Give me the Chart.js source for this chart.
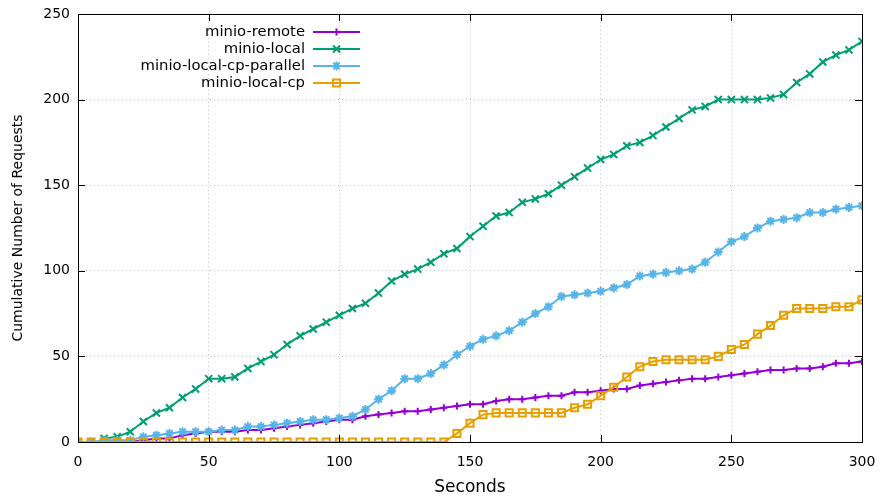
<!DOCTYPE html>
<html>
<head>
<meta charset="utf-8">
<script src="https://cdn.jsdelivr.net/npm/chart.js@4/dist/chart.umd.min.js"></script>
<style>
  html, body { margin: 0; padding: 0; background: #fff; }
  #wrap { width: 881px; height: 498px; }
</style>
</head>
<body>
<div id="wrap"><canvas id="mycanvas" width="881" height="498"></canvas></div>
<script>
// sample times, every 5 seconds
var seconds = [];
for (var s = 0; s <= 300; s += 5) seconds.push(s);

var minioRemote = [0, 0, 0, 0, 0, 1, 2, 2, 4, 5, 6, 6, 6, 7, 7, 8, 9, 10, 11, 12,
    13, 13, 15, 16, 17, 18, 18, 19, 20, 21, 22, 22, 24, 25, 25, 26, 27, 27, 29, 29,
    30, 31, 31, 33, 34, 35, 36, 37, 37, 38, 39, 40, 41, 42, 42, 43, 43, 44, 46, 46, 47];
var minioLocal = [null, null, 2, 3, 6, 12, 17, 20, 26, 31, 37, 37, 38, 43, 47, 51, 57, 62, 66, 70,
    74, 78, 81, 87, 94, 98, 101, 105, 110, 113, 120, 126, 132, 134, 140, 142, 145, 150, 155, 160,
    165, 168, 173, 175, 179, 184, 189, 194, 196, 200, 200, 200, 200, 201, 203, 210, 215, 222, 226, 229, 234];
var minioLocalCpParallel = [0, 0, 1, 1, 1, 3, 4, 5, 6, 6, 6, 7, 7, 9, 9, 10, 11, 12, 13, 13,
    14, 15, 19, 25, 30, 37, 37, 40, 45, 51, 56, 60, 62, 65, 70, 75, 79, 85, 86, 87,
    88, 90, 92, 97, 98, 99, 100, 101, 105, 111, 117, 120, 125, 129, 130, 131, 134, 134, 136, 137, 138];
var minioLocalCp = [0, 0, 0, 0, 0, 0, 0, 0, 0, 0, 0, 0, 0, 0, 0, 0, 0, 0, 0, 0,
    0, 0, 0, 0, 0, 0, 0, 0, 0, 5, 11, 16, 17, 17, 17, 17, 17, 17, 20, 22,
    27, 32, 38, 44, 47, 48, 48, 48, 48, 50, 54, 57, 63, 68, 74, 78, 78, 78, 79, 79, 83];

var xTicks = [0, 50, 100, 150, 200, 250, 300];
var yTicks = [0, 50, 100, 150, 200, 250];

var colors = {
    purple: '#9400d3',
    green: '#009e73',
    blue: '#56b4e9',
    orange: '#e69f00'
};

var FONT = "'DejaVu Sans', sans-serif";

function points(vals) {
    var out = [];
    for (var i = 0; i < seconds.length; i++) {
        if (vals[i] !== null) out.push({ x: seconds[i], y: vals[i] });
    }
    return out;
}

function series(label, vals, color, style, radius, order) {
    return {
        label: label,
        data: points(vals),
        borderColor: color,
        backgroundColor: color,
        borderWidth: 2,
        pointStyle: style,
        pointRadius: radius,
        pointBorderWidth: 2,
        pointBorderColor: color,
        pointBackgroundColor: style === 'rect' ? 'rgba(0,0,0,0)' : color,
        tension: 0,
        order: order
    };
}

var datasets = [
    series('minio-remote', minioRemote, colors.purple, 'cross', 3.5, 3),
    series('minio-local', minioLocal, colors.green, 'crossRot', 5, 2),
    series('minio-local-cp-parallel', minioLocalCpParallel, colors.blue, 'star', 4.5, 1),
    series('minio-local-cp', minioLocalCp, colors.orange, 'rect', 5, 0)
];

// frame around the plot with inward ticks on all four sides
var framePlugin = {
    id: 'frame',
    afterDatasetsDraw: function (chart) {
        var ctx = chart.ctx, a = chart.chartArea;
        var xs = chart.scales.x, ys = chart.scales.y;
        ctx.save();
        ctx.strokeStyle = '#000';
        ctx.lineWidth = 1;
        ctx.strokeRect(a.left + 0.5, a.top + 0.5, a.right - a.left, a.bottom - a.top);
        ctx.beginPath();
        xTicks.forEach(function (v) {
            var px = Math.round(xs.getPixelForValue(v)) + 0.5;
            ctx.moveTo(px, a.bottom); ctx.lineTo(px, a.bottom - 7);
            ctx.moveTo(px, a.top); ctx.lineTo(px, a.top + 7);
        });
        yTicks.forEach(function (v) {
            var py = Math.round(ys.getPixelForValue(v)) + 0.5;
            ctx.moveTo(a.left, py); ctx.lineTo(a.left + 7, py);
            ctx.moveTo(a.right, py); ctx.lineTo(a.right - 7, py);
        });
        ctx.stroke();
        ctx.restore();
    }
};

// gnuplot-like key: right aligned text, sample line with marker after it
var keyPlugin = {
    id: 'key',
    afterDatasetsDraw: function (chart) {
        var ctx = chart.ctx;
        var textRight = 305, lineL = 313, lineR = 360, top = 32, step = 17;
        var mx = (lineL + lineR) / 2;
        ctx.save();
        ctx.font = '14.8px ' + FONT;
        ctx.textAlign = 'right';
        ctx.textBaseline = 'middle';
        datasets.forEach(function (ds, i) {
            var y = top + i * step;
            ctx.fillStyle = '#000';
            ctx.fillText(ds.label, textRight, y);
            ctx.strokeStyle = ds.borderColor;
            ctx.fillStyle = ds.pointBackgroundColor;
            ctx.lineWidth = 2;
            ctx.beginPath();
            ctx.moveTo(lineL, y); ctx.lineTo(lineR, y);
            ctx.stroke();
            Chart.helpers.drawPoint(ctx, {
                pointStyle: ds.pointStyle,
                radius: ds.pointRadius,
                rotation: 0,
                borderWidth: 2
            }, mx, y);
        });
        ctx.restore();
    }
};

var ctx = document.getElementById('mycanvas');
var chart = new Chart(ctx, {
    type: 'line',
    data: { datasets: datasets },
    options: {
        responsive: false,
        animation: false,
        layout: { padding: { top: 14, right: 19, left: 0, bottom: 0 } },
        plugins: {
            legend: { display: false },
            tooltip: { enabled: false }
        },
        scales: {
            x: {
                type: 'linear',
                min: 0,
                max: 300,
                afterFit: function (scale) {
                    scale.height = 56;
                    scale.paddingLeft = 0;
                    scale.paddingRight = 0;
                },
                afterBuildTicks: function (scale) {
                    scale.ticks = xTicks.map(function (v) { return { value: v }; });
                },
                ticks: {
                    color: '#000',
                    font: { family: FONT, size: 14 },
                    padding: 12,
                    maxRotation: 0
                },
                grid: { color: '#c4c4c4', lineWidth: 1, drawTicks: false },
                border: { display: false, dash: [1, 3] },
                title: {
                    display: true,
                    text: 'Seconds',
                    color: '#000',
                    font: { family: FONT, size: 17 },
                    padding: { top: 2, bottom: 0 }
                }
            },
            y: {
                type: 'linear',
                min: 0,
                max: 250,
                afterFit: function (scale) {
                    scale.width = 78;
                    scale.paddingTop = 0;
                    scale.paddingBottom = 0;
                },
                afterBuildTicks: function (scale) {
                    scale.ticks = yTicks.map(function (v) { return { value: v }; });
                },
                ticks: {
                    color: '#000',
                    font: { family: FONT, size: 14 },
                    padding: 8
                },
                grid: { color: '#c4c4c4', lineWidth: 1, drawTicks: false },
                border: { display: false, dash: [1, 3] },
                title: {
                    display: true,
                    text: 'Cumulative Number of Requests',
                    color: '#000',
                    font: { family: FONT, size: 14 },
                    padding: { top: 10, bottom: 0 }
                }
            }
        }
    },
    plugins: [framePlugin, keyPlugin]
});
</script>
</body>
</html>
